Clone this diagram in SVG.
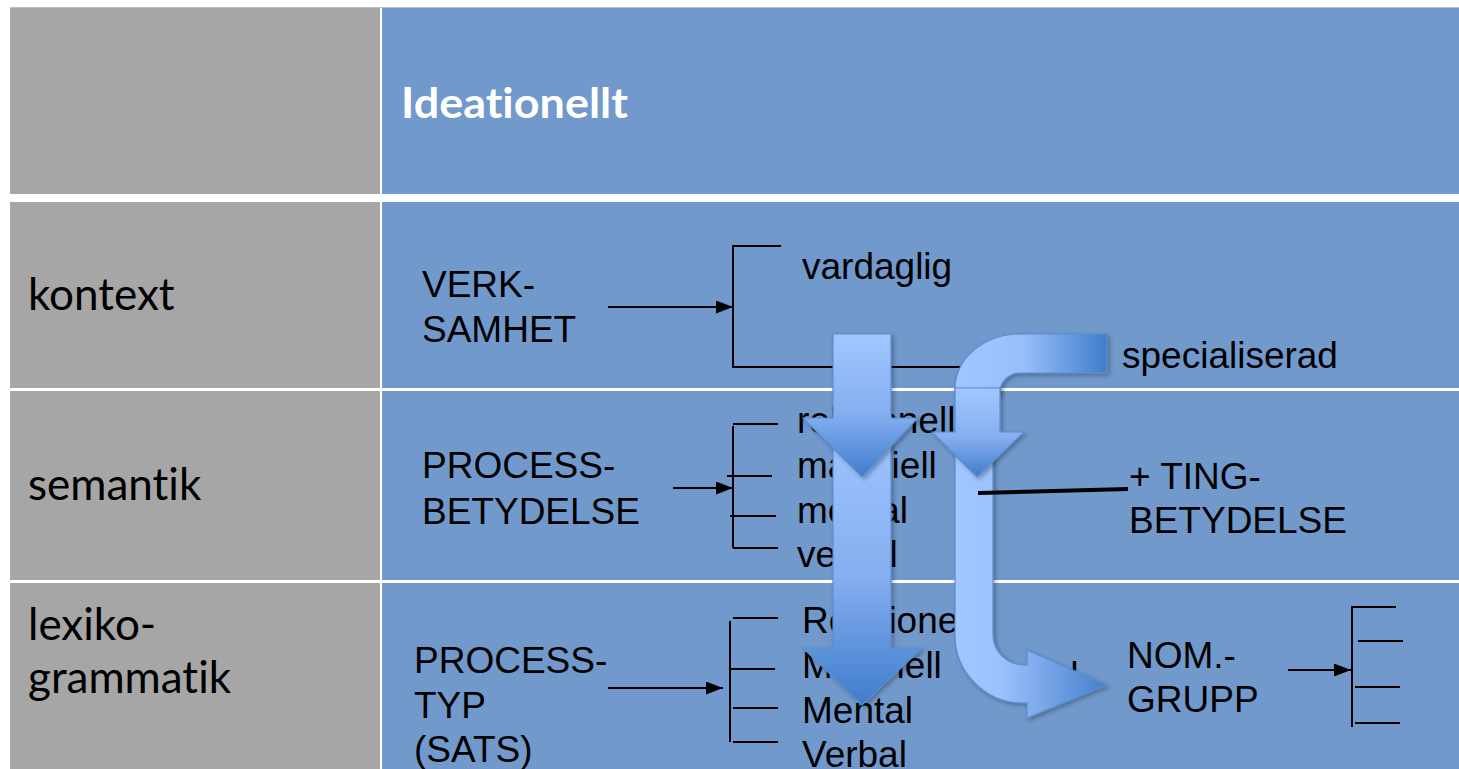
<svg xmlns="http://www.w3.org/2000/svg" width="1459" height="769" viewBox="0 0 1459 769">
<style>
.gray{fill:#A6A6A6}
.blue{fill:#7199CC}
.head{font-family:Lato,"Open Sans",sans-serif;font-size:44px;fill:#000;font-variant-ligatures:none}
.title{font-family:Lato,"Open Sans",sans-serif;font-size:42px;font-weight:bold;fill:#fff;font-variant-ligatures:none}
.t{font-family:"Liberation Sans",Arial,sans-serif;font-size:37px;fill:#000}
.ln{stroke:#000;stroke-width:2;fill:none}
.arr{stroke:#000;stroke-width:2;fill:none;marker-end:url(#ah)}
.big{stroke:#5B8DCF;stroke-width:1.2;filter:url(#sh)}
</style>
<defs>
<marker id="ah" markerUnits="userSpaceOnUse" markerWidth="17" markerHeight="13" refX="17" refY="6.5" orient="auto">
<path d="M0,0 L17,6.5 L0,13 Z" fill="#000"/>
</marker>
<linearGradient id="gv" x1="0" y1="0" x2="0" y2="1">
<stop offset="0" stop-color="#A2C6FF"/>
<stop offset="0.55" stop-color="#86AFF1"/>
<stop offset="1" stop-color="#3F7DCC"/>
</linearGradient>
<linearGradient id="gh1" x1="0" y1="0" x2="1" y2="0">
<stop offset="0" stop-color="#A2C6FF"/>
<stop offset="0.45" stop-color="#98BEFA"/>
<stop offset="1" stop-color="#3E7ECD"/>
</linearGradient>
<linearGradient id="gh2" x1="0" y1="0" x2="1" y2="0">
<stop offset="0" stop-color="#A2C6FF"/>
<stop offset="0.3" stop-color="#9CC1FD"/>
<stop offset="1" stop-color="#4480CC"/>
</linearGradient>
<filter id="sh" x="-10%" y="-10%" width="130%" height="130%">
<feDropShadow dx="2" dy="2" stdDeviation="2" flood-color="#000" flood-opacity="0.3"/>
</filter>
</defs>
<rect width="1459" height="769" fill="#fff"/>
<g id="table">
<rect class="gray" x="10" y="7" width="370" height="187"/>
<rect class="blue" x="382" y="7" width="1077" height="187"/>
<rect class="gray" x="10" y="202" width="370" height="186"/>
<rect class="blue" x="382" y="202" width="1077" height="186"/>
<rect class="gray" x="10" y="391" width="370" height="189"/>
<rect class="blue" x="382" y="391" width="1077" height="189"/>
<rect class="gray" x="10" y="583" width="370" height="186"/>
<rect class="blue" x="382" y="583" width="1077" height="186"/>
<line x1="10" y1="7.5" x2="1459" y2="7.5" stroke="#BFBFBF" stroke-width="1"/>
<text class="title" x="401" y="118" textLength="227" lengthAdjust="spacingAndGlyphs">Ideationellt</text>
<text class="head" x="28" y="310">kontext</text>
<text class="head" x="28" y="500">semantik</text>
<text class="head" x="28" y="640">lexiko-</text>
<text class="head" x="28" y="693">grammatik</text>
</g>
<g id="verksamhet">
<text class="t" x="422" y="297">VERK-</text>
<text class="t" x="422" y="342">SAMHET</text>
</g>
<g id="options-kontext">
<text class="t" x="802" y="279">vardaglig</text>
<text class="t" x="1122" y="368">specialiserad</text>
</g>
<g id="processbetydelse">
<text class="t" x="422" y="478">PROCESS-</text>
<text class="t" x="422" y="524">BETYDELSE</text>
</g>
<g id="options-semantik">
<text class="t" x="797" y="433">relationell</text>
<text class="t" x="797" y="478">materiell</text>
<text class="t" x="797" y="523">mental</text>
<text class="t" x="797" y="567">verbal</text>
</g>
<g id="tingbetydelse">
<text class="t" x="1129" y="489">+ TING-</text>
<text class="t" x="1129" y="533">BETYDELSE</text>
</g>
<g id="processtyp">
<text class="t" x="414" y="673">PROCESS-</text>
<text class="t" x="414" y="718">TYP</text>
<text class="t" x="414" y="762">(SATS)</text>
</g>
<g id="options-lexiko">
<text class="t" x="802" y="633">Relationell</text>
<text class="t" x="802" y="678">Materiell</text>
<text class="t" x="802" y="723">Mental</text>
<text class="t" x="802" y="767">Verbal</text>
<text class="t" x="1058" y="688">d</text>
</g>
<g id="nomgrupp">
<text class="t" x="1127" y="668">NOM.-</text>
<text class="t" x="1127" y="712">GRUPP</text>
</g>
<g id="connectors">
<line class="arr" x1="608" y1="307" x2="733" y2="307"/>
<polyline class="ln" points="781,246 733,246 733,367 967,367"/>
<line class="arr" x1="673" y1="488" x2="733" y2="488"/>
<line class="ln" x1="733" y1="426" x2="733" y2="548"/>
<line class="ln" x1="733" y1="424" x2="778" y2="424"/>
<line class="ln" x1="727" y1="476" x2="772" y2="476"/>
<line class="ln" x1="730" y1="516" x2="776" y2="516"/>
<line class="ln" x1="733" y1="548" x2="778" y2="548"/>
<line class="arr" x1="608" y1="688" x2="723" y2="688"/>
<line class="ln" x1="730" y1="621" x2="730" y2="742"/>
<line class="ln" x1="733" y1="618" x2="778" y2="618"/>
<line class="ln" x1="729" y1="669" x2="775" y2="669"/>
<line class="ln" x1="733" y1="708" x2="778" y2="708"/>
<line class="ln" x1="733" y1="742" x2="778" y2="742"/>
<line class="arr" x1="1288" y1="670" x2="1351" y2="670"/>
<line class="ln" x1="1352" y1="606" x2="1352" y2="727"/>
<line class="ln" x1="1352" y1="607" x2="1396" y2="607"/>
<line class="ln" x1="1358" y1="641" x2="1403" y2="641"/>
<line class="ln" x1="1355" y1="687" x2="1400" y2="687"/>
<line class="ln" x1="1355" y1="723" x2="1400" y2="723"/>
</g>
<g id="big-arrows">
<polygon class="big" fill="url(#gv)" points="833,415 891,415 891,648 922,648 862,705 803,648 833,648"/>
<polygon class="big" fill="url(#gv)" points="833,334 891,334 891,418 918,418 862,477 803,418 833,418"/>
<path class="big" fill="url(#gh1)" d="M1107,334 L1020,334 A65,55 0 0 0 955,389 L955,395 L1000,395 L1000,392 A20,19 0 0 1 1020,373 L1107,373 Z"/>
<path class="big" fill="url(#gh2)" d="M955,425 L993,425 L993,635 A32,30 0 0 0 1025,665 L1027,665 L1027,650 L1107,685 L1027,718 L1027,703 L1023,703 A68,68 0 0 1 955,635 Z"/>
<polygon class="big" fill="url(#gv)" points="955,388 1000,388 1000,432 1024,432 977,477 932,432 955,432"/>
<line x1="978" y1="493" x2="1128" y2="489" stroke="#000" stroke-width="4"/>
</g>
</svg>
